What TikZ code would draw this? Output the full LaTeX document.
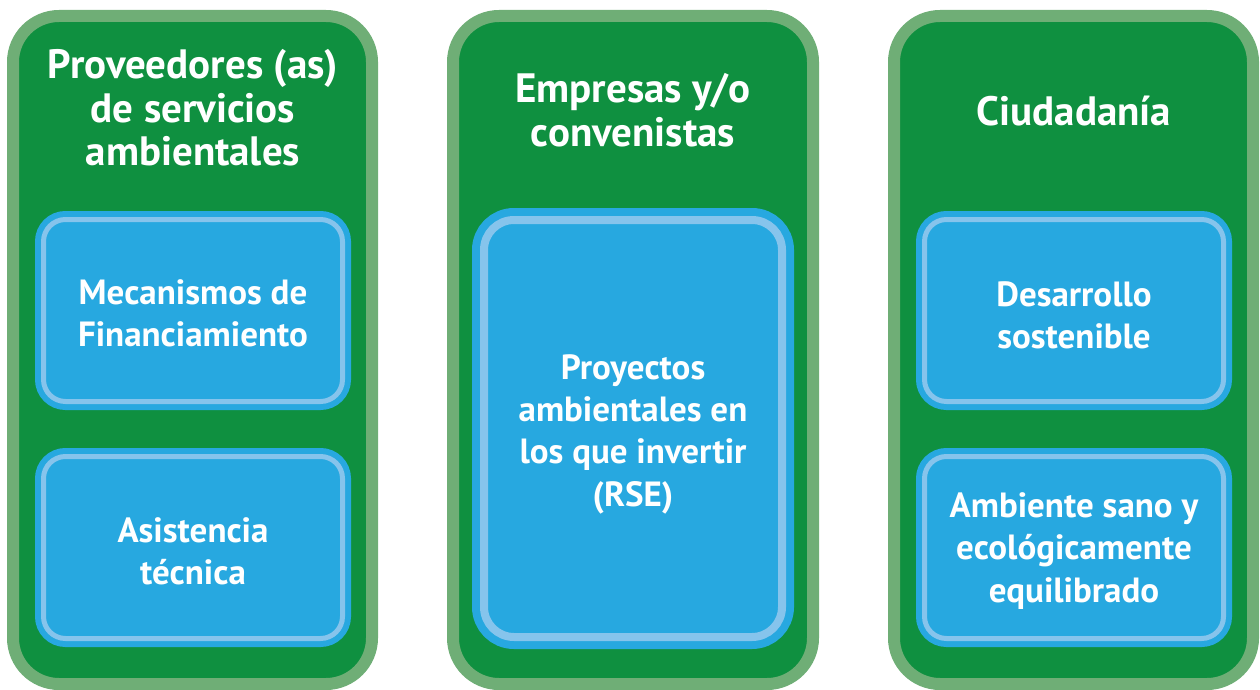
\documentclass[tikz,border=0pt]{standalone}
\usepackage{fontspec}
\setmainfont{PT Sans}
\definecolor{panelgreen}{HTML}{0F9040}
\definecolor{panelrim}{HTML}{6FAE76}
\definecolor{boxblue}{HTML}{27A8E0}
\definecolor{boxrim}{HTML}{86C4EC}
\tikzset{
  panel/.style={draw=panelrim, fill=panelgreen, line width=12pt, rounded corners=46pt, inner sep=0pt},
  smallbox/.style={draw=boxrim, fill=boxblue, line width=5pt, rounded corners=22pt, inner sep=0pt,
    preaction={draw=boxblue, line width=17pt}},
  bigbox/.style={draw=boxrim, fill=boxblue, line width=8pt, rounded corners=30pt, inner sep=0pt,
    preaction={draw=boxblue, line width=24pt}},
  head/.style={text=white, align=center, font=\bfseries\fontsize{41}{43.5}\selectfont},
  label/.style={text=white, align=center, font=\bfseries\fontsize{35}{42.3}\selectfont}
}
\begin{document}
\begin{tikzpicture}[x=1pt,y=-1pt]
\useasboundingbox (0,0) rectangle (1260,690);
% panels
\path (13,16) rectangle (372,684) node[midway, panel, minimum width=359pt, minimum height=668pt] (p1) {};
\path (453,16) rectangle (813,684) node[midway, panel, minimum width=360pt, minimum height=668pt] (p2) {};
\path (894,16) rectangle (1253,684) node[midway, panel, minimum width=359pt, minimum height=668pt] (p3) {};
% boxes
\node[smallbox, minimum width=299pt, minimum height=182pt] (b1) at (193,310.5) {};
\node[smallbox, minimum width=299pt, minimum height=182pt] (b2) at (193,547.5) {};
\node[bigbox, minimum width=298pt, minimum height=417pt] (b3) at (633,428.5) {};
\node[smallbox, minimum width=299pt, minimum height=182pt] (b4) at (1074,310.5) {};
\node[smallbox, minimum width=299pt, minimum height=182pt] (b5) at (1074,547.5) {};
% headings
\node[head] (h1) at (193,108) {Proveedores (as)\\de servicios\\ambientales};
\node[head] (h2) at (633,110) {Empresas y/o\\convenistas};
\node[head] (h3) at (1074,111) {Ciudadanía};
% labels
\node[label] (t1) at (193,313) {Mecanismos de\\Financiamiento};
\node[label] (t2) at (193,551) {Asistencia\\técnica};
\node[label] (t3) at (633,434) {Proyectos\\ambientales en\\los que invertir\\(RSE)};
\node[label] (t4) at (1074,315) {Desarrollo\\sostenible};
\node[label] (t5) at (1074,551) {Ambiente sano y\\ecológicamente\\equilibrado};
\end{tikzpicture}
\end{document}
